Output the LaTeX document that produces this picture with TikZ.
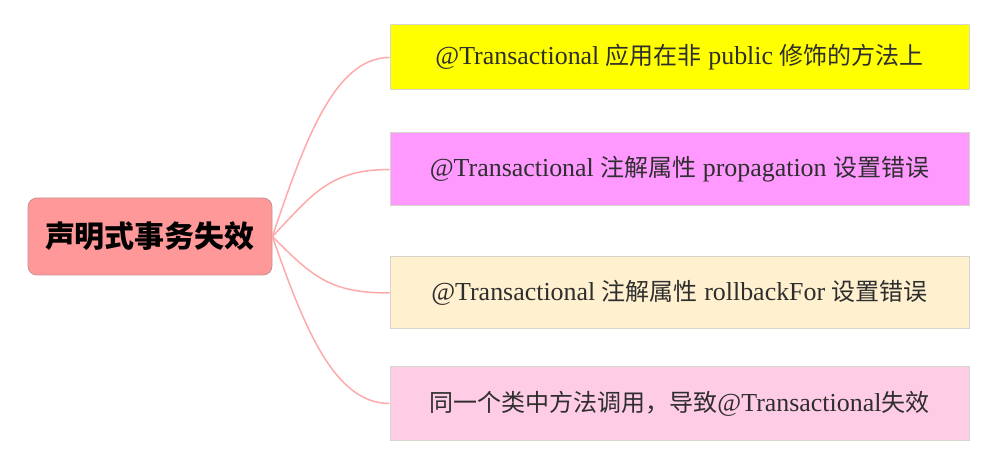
\documentclass[tikz,border=0pt]{standalone}
\usepackage{fontspec}
\setmainfont{Liberation Serif}[Scale=1.08]
\newfontfamily\cjk{Noto Sans CJK SC}
\newcommand{\C}[1]{{\cjk #1}}
\definecolor{rootfill}{HTML}{FF9898}
\definecolor{rootedge}{HTML}{C89090}
\definecolor{boxedge}{HTML}{D6D6CC}
\definecolor{linkc}{HTML}{FFAAAA}
\definecolor{fillA}{HTML}{FFFF00}
\definecolor{fillB}{HTML}{FF99FF}
\definecolor{fillC}{HTML}{FFF0CF}
\definecolor{fillD}{HTML}{FFCCE6}
\definecolor{txt}{HTML}{2E2E2E}
\begin{document}
\begin{tikzpicture}[x=1pt,y=-1pt,
  rootbox/.style={draw=rootedge,line width=0.8pt,fill=rootfill,rounded corners=9pt,
    minimum width=244pt,minimum height=77pt,inner sep=0pt,
    font=\fontsize{30}{34}\selectfont\bfseries,text=black},
  leafbox/.style={draw=boxedge,line width=1pt,minimum width=579pt,inner sep=0pt,
    font=\fontsize{24}{28}\selectfont,text=txt},
  link/.style={draw=linkc,line width=1.5pt}]
\useasboundingbox (0,0) rectangle (991,454);
\node[rootbox] (root) at (150,236.5) {\C{声明式事务失效}};
\node[leafbox,fill=fillA,minimum height=65pt] (b1) at (679.5,57.5)
  {@Transactional \C{应用在非} public \C{修饰的方法上}};
\node[leafbox,fill=fillB,minimum height=73pt] (b2) at (679.5,169.5)
  {@Transactional \C{注解属性} propagation \C{设置错误}};
\node[leafbox,fill=fillC,minimum height=72pt] (b3) at (679.5,293)
  {@Transactional \C{注解属性} rollbackFor \C{设置错误}};
\node[leafbox,fill=fillD,minimum height=73pt] (b4) at (679.5,403.5)
  {\C{同一个类中方法调用，导致}@Transactional\C{失效}};
\draw[link] (root.east) .. controls +(32,-95) and +(-55,0) .. (b1.west);
\draw[link] (root.east) .. controls +(40,-42) and +(-60,0) .. (b2.west);
\draw[link] (root.east) .. controls +(40,40) and +(-60,0) .. (b3.west);
\draw[link] (root.east) .. controls +(32,92) and +(-55,0) .. (b4.west);
\end{tikzpicture}
\end{document}
